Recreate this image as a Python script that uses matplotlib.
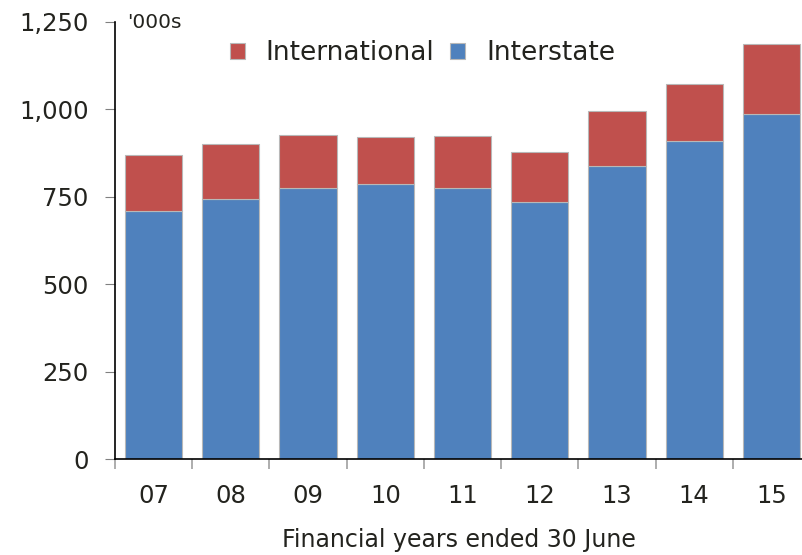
import matplotlib
matplotlib.use('Agg')
import matplotlib.pyplot as plt
import numpy as np

# 데이터
years = ['07', '08', '09', '10', '11', '12', '13', '14', '15']
interstate = [709, 743, 774, 786, 774, 735, 839, 909, 987]
international = [160, 157, 152, 135, 150, 142, 155, 162, 199]
y_ticks = [0, 250, 500, 750, 1000, 1250]

RED = '#C0504D'
BLUE = '#4F81BD'
TXT = '#23231e'

plt.rcParams['font.family'] = ['DejaVu Sans']

fig = plt.figure(figsize=(8.03, 5.55), dpi=100)
ax = fig.add_axes([115 / 803, 1 - 459.3 / 555, 688 / 803, (459.3 - 21.8) / 555])

x = np.arange(len(years))
ax.bar(x, interstate, width=0.74, color=BLUE, edgecolor='#b8b8b8', linewidth=0.8,
       label='Interstate', zorder=2)
ax.bar(x, international, width=0.74, bottom=interstate, color=RED, edgecolor='#b8b8b8',
       linewidth=0.8, label='International', zorder=2)

ax.set_xlim(-0.5, 8.5 - 7 / 77.3)
ax.set_ylim(0, 1250)

# 축 스타일
for s in ['top', 'right']:
    ax.spines[s].set_visible(False)
ax.spines['left'].set_color('black')
ax.spines['bottom'].set_color('black')
ax.spines['left'].set_linewidth(1.2)
ax.spines['bottom'].set_linewidth(1.2)

ax.set_yticks(y_ticks)
ax.set_yticklabels([f'{v:,}' for v in y_ticks])
ax.tick_params(axis='y', length=7, color='#808080', pad=12, labelsize=17.5, labelcolor=TXT)

ax.set_xticks(x)
ax.set_xticklabels(years)
ax.tick_params(axis='x', which='major', length=0, pad=18, labelsize=17.5, labelcolor=TXT)
ax.set_xticks(np.arange(-0.5, 8.5, 1), minor=True)
ax.tick_params(axis='x', which='minor', length=7, color='#a0a0a0', width=1.2)

ax.set_xlabel('Financial years ended 30 June', fontsize=17, color=TXT, labelpad=14)
ax.text(0.018, 1.02, "'000s", transform=ax.transAxes, fontsize=14.5, color=TXT, va='top', ha='left')

handles, labels = ax.get_legend_handles_labels()
ax.legend(handles[::-1], labels[::-1], loc='upper center', bbox_to_anchor=(0.447, 1.012),
          ncol=2, frameon=False, fontsize=19, handlelength=0.55, handleheight=0.55,
          handletextpad=0.8, columnspacing=0.6, labelcolor=TXT)

fig.savefig('out.png', dpi=100)
